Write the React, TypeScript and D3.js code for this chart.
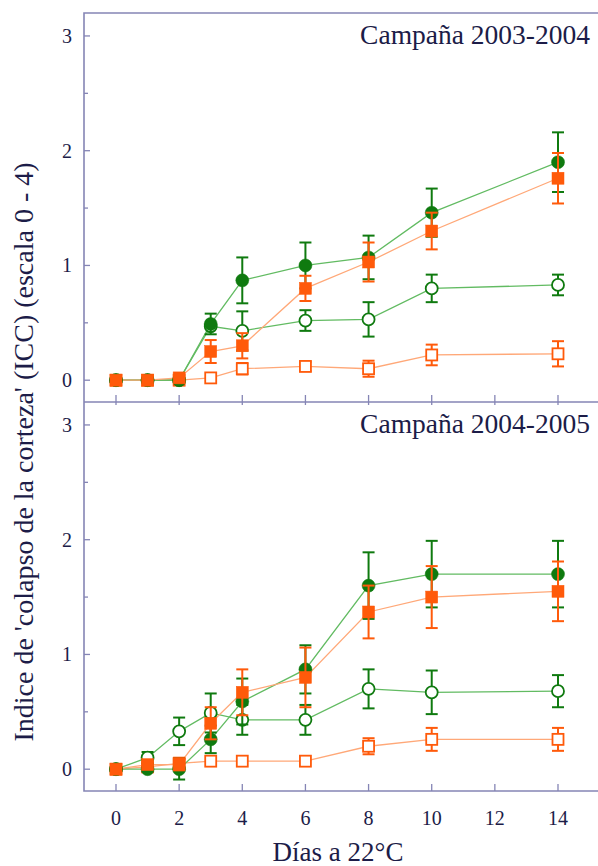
import React, { useEffect, useRef } from 'react';
import * as d3 from 'd3';

// dias de incubacion
const days = [0, 1, 2, 3, 4, 6, 8, 10, 14];
const xTicks = [0, 2, 4, 6, 8, 10, 12, 14];
const yTicks = [0, 1, 2, 3];
const yMinorTicks = [0.5, 1.5, 2.5];

const titles = ['Campaña 2003-2004', 'Campaña 2004-2005'];

// campaña 2003-2004
const c1GreenFilled = [0, 0, 0, 0.49, 0.87, 1.0, 1.07, 1.46, 1.9];
const c1GreenFilledErr = [0, 0, 0, 0.09, 0.2, 0.2, 0.19, 0.21, 0.26];
const c1OrangeFilled = [0, 0, 0.02, 0.25, 0.3, 0.8, 1.03, 1.3, 1.76];
const c1OrangeFilledErr = [0, 0, 0, 0.1, 0.11, 0.11, 0.17, 0.16, 0.22];
const c1GreenOpen = [0, 0, 0, 0.47, 0.43, 0.52, 0.53, 0.8, 0.83];
const c1GreenOpenErr = [0, 0, 0, 0, 0.17, 0.09, 0.15, 0.12, 0.09];
const c1OrangeOpen = [0, 0, 0, 0.02, 0.1, 0.12, 0.1, 0.22, 0.23];
const c1OrangeOpenErr = [0, 0, 0, 0, 0.05, 0.04, 0.07, 0.09, 0.11];

// campaña 2004-2005
const c2GreenFilled = [0, 0, 0, 0.26, 0.59, 0.87, 1.6, 1.7, 1.7];
const c2GreenFilledErr = [0, 0, 0.09, 0.12, 0.2, 0.21, 0.29, 0.29, 0.29];
const c2OrangeFilled = [0, 0.04, 0.04, 0.4, 0.67, 0.8, 1.37, 1.5, 1.55];
const c2OrangeFilledErr = [0, 0, 0.05, 0.14, 0.2, 0.26, 0.23, 0.27, 0.26];
const c2GreenOpen = [0, 0.1, 0.33, 0.49, 0.43, 0.43, 0.7, 0.67, 0.68];
const c2GreenOpenErr = [0, 0.05, 0.12, 0.17, 0.13, 0.13, 0.17, 0.19, 0.14];
const c2OrangeOpen = [0, 0.02, 0.05, 0.07, 0.07, 0.07, 0.2, 0.26, 0.26];
const c2OrangeOpenErr = [0, 0, 0.05, 0, 0, 0, 0.07, 0.1, 0.1];

const GREEN = '#0f7a0f';
const GREEN_LINE = '#62bb62';
const ORANGE = '#ff5a0a';
const ORANGE_LINE = '#ffa878';
const AXIS = '#8585b5';
const TEXT = '#1c1c48';
const FONT = "'Liberation Serif', 'DejaVu Serif', serif";

const App = () => {
  const ref = useRef(null);

  useEffect(() => {
    const width = 598;
    const height = 866;
    const frameLeft = 84;
    const panelTops = [13, 402];
    const panelH = 389;

    const svg = d3.select(ref.current);
    svg.selectAll('*').remove();
    svg.attr('width', width).attr('height', height);

    const x = d3.scaleLinear().domain([0, 14]).range([116, 558]);

    const panels = [
      [
        { v: c1OrangeOpen, e: c1OrangeOpenErr, shape: 'square', filled: false },
        { v: c1GreenOpen, e: c1GreenOpenErr, shape: 'circle', filled: false },
        { v: c1GreenFilled, e: c1GreenFilledErr, shape: 'circle', filled: true },
        { v: c1OrangeFilled, e: c1OrangeFilledErr, shape: 'square', filled: true },
      ],
      [
        { v: c2OrangeOpen, e: c2OrangeOpenErr, shape: 'square', filled: false },
        { v: c2GreenOpen, e: c2GreenOpenErr, shape: 'circle', filled: false },
        { v: c2GreenFilled, e: c2GreenFilledErr, shape: 'circle', filled: true },
        { v: c2OrangeFilled, e: c2OrangeFilledErr, shape: 'square', filled: true },
      ],
    ];

    // marco
    svg.append('path')
      .attr('d', `M${width},${panelTops[0]}H${frameLeft}V${panelTops[1] + panelH}H${width}`)
      .attr('fill', 'none')
      .attr('stroke', AXIS)
      .attr('stroke-width', 1.6);
    svg.append('line')
      .attr('x1', frameLeft).attr('x2', width)
      .attr('y1', panelTops[1]).attr('y2', panelTops[1])
      .attr('stroke', AXIS).attr('stroke-width', 1.6);

    panels.forEach((series, pi) => {
      const top = panelTops[pi];
      const y = d3.scaleLinear().domain([-0.19, 3.2]).range([top + panelH, top]);
      const g = svg.append('g');

      // ticks eje y
      g.selectAll('.ytick').data(yTicks).enter().append('line')
        .attr('x1', frameLeft).attr('x2', frameLeft + 6)
        .attr('y1', d => y(d)).attr('y2', d => y(d))
        .attr('stroke', AXIS).attr('stroke-width', 1.3);
      g.selectAll('.yminor').data(yMinorTicks).enter().append('line')
        .attr('x1', frameLeft).attr('x2', frameLeft + 4)
        .attr('y1', d => y(d)).attr('y2', d => y(d))
        .attr('stroke', AXIS).attr('stroke-width', 1.3);
      g.selectAll('.ylab').data(yTicks).enter().append('text')
        .attr('x', 72).attr('y', d => y(d) + 7)
        .attr('text-anchor', 'end')
        .attr('font-family', FONT)
        .attr('font-size', 20)
        .attr('fill', TEXT)
        .text(d => d);

      // ticks eje x (abajo del panel)
      const bottom = top + panelH;
      g.selectAll('.xtick').data(xTicks).enter().append('line')
        .attr('x1', d => x(d)).attr('x2', d => x(d))
        .attr('y1', bottom - 7).attr('y2', pi === 0 ? bottom + 3 : bottom)
        .attr('stroke', AXIS).attr('stroke-width', 1.3);

      g.append('text')
        .attr('x', 590).attr('y', top + 31)
        .attr('text-anchor', 'end')
        .attr('font-family', FONT)
        .attr('font-size', 27.5)
        .attr('fill', TEXT)
        .text(titles[pi]);

      const line = d3.line<number>()
        .x((d, i) => x(days[i]))
        .y(d => y(d));

      // lineas primero
      series.forEach(s => {
        g.append('path')
          .attr('d', line(s.v))
          .attr('fill', 'none')
          .attr('stroke', s.shape === 'circle' ? GREEN_LINE : ORANGE_LINE)
          .attr('stroke-width', 1.3);
      });

      series.forEach(s => {
        const col = s.shape === 'circle' ? GREEN : ORANGE;
        const pts = s.v.map((v, i) => ({ d: days[i], v, e: s.e[i] }));
        const sg = g.append('g');

        const eb = sg.selectAll('.eb').data(pts.filter(p => p.e > 0)).enter().append('g');
        eb.append('line')
          .attr('x1', p => x(p.d)).attr('x2', p => x(p.d))
          .attr('y1', p => y(p.v - p.e)).attr('y2', p => y(p.v + p.e))
          .attr('stroke', col).attr('stroke-width', 2);
        [-1, 1].forEach(sign => {
          eb.append('line')
            .attr('x1', p => x(p.d) - 6).attr('x2', p => x(p.d) + 6)
            .attr('y1', p => y(p.v + sign * p.e)).attr('y2', p => y(p.v + sign * p.e))
            .attr('stroke', col).attr('stroke-width', 2);
        });

        if (s.shape === 'circle') {
          sg.selectAll('.pt').data(pts).enter().append('circle')
            .attr('cx', p => x(p.d)).attr('cy', p => y(p.v))
            .attr('r', s.filled ? 6.5 : 6)
            .attr('fill', s.filled ? col : '#fff')
            .attr('stroke', col).attr('stroke-width', s.filled ? 0.5 : 1.8);
        } else {
          const half = s.filled ? 6 : 5.5;
          sg.selectAll('.pt').data(pts).enter().append('rect')
            .attr('x', p => x(p.d) - half).attr('y', p => y(p.v) - half)
            .attr('width', half * 2).attr('height', half * 2)
            .attr('fill', s.filled ? col : '#fff')
            .attr('stroke', col).attr('stroke-width', s.filled ? 0.5 : 1.8);
        }
      });
    });

    // etiquetas eje x
    svg.selectAll('.xlab').data(xTicks).enter().append('text')
      .attr('x', d => x(d)).attr('y', 825)
      .attr('text-anchor', 'middle')
      .attr('font-family', FONT)
      .attr('font-size', 20)
      .attr('fill', TEXT)
      .text(d => d);

    svg.append('text')
      .attr('x', 338).attr('y', 861)
      .attr('text-anchor', 'middle')
      .attr('font-family', FONT)
      .attr('font-size', 27)
      .attr('fill', TEXT)
      .text('Días a 22°C');

    svg.append('text')
      .attr('transform', 'translate(33,452) rotate(-90)')
      .attr('text-anchor', 'middle')
      .attr('font-family', FONT)
      .attr('font-size', 28)
      .attr('fill', TEXT)
      .text("Indice de 'colapso de la corteza' (ICC) (escala 0 - 4)");
  }, []);

  return (
    <div style={{ position: 'absolute', left: 0, top: 0 }}>
      <svg ref={ref} />
    </div>
  );
};

export default App;
